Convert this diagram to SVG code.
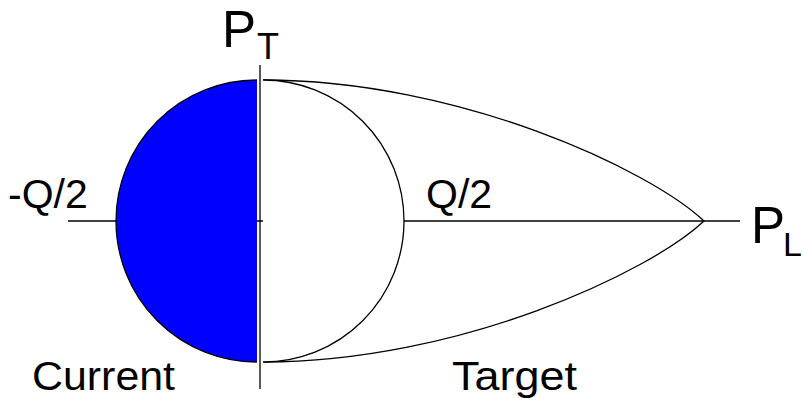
<svg xmlns="http://www.w3.org/2000/svg" width="803" height="398" viewBox="0 0 803 398">
<style>
.ln{fill:none;stroke:#000;stroke-width:1.3}
.t{font-family:"Liberation Sans",Arial,sans-serif;fill:#000}
</style>
<rect width="803" height="398" fill="#fff"/>
<g id="connectors">
<line class="ln" x1="68" y1="221" x2="740" y2="221"/>
</g>
<g id="target">
<path class="ln" d="M263,80 C460,80 650,170 704,221 C650,272 460,362 263,362"/>
<path d="M263,80 A141,141 0 0 1 263,362 Z" fill="#fff" stroke="none"/>
<path class="ln" d="M263,80 A141,141 0 0 1 263,362"/>
</g>
<g id="current">
<path d="M257,80 A141,141 0 0 0 257,362 Z" fill="#0000ff" stroke="none"/>
<path class="ln" d="M257,80 A141,141 0 0 0 257,362"/>
</g>
<g id="axis">
<line class="ln" x1="260" y1="65" x2="260" y2="389"/>
</g>
<g id="labels">
<text class="t" x="222" y="47" font-size="51">P</text>
<text class="t" x="257" y="59" font-size="36">T</text>
<text class="t" x="751" y="243" font-size="51">P</text>
<text class="t" x="783" y="256" font-size="34">L</text>
<text class="t" x="8" y="208" font-size="41">-Q/2</text>
<text class="t" x="426" y="208" font-size="41">Q/2</text>
<text class="t" x="32" y="390" font-size="40" textLength="143" lengthAdjust="spacingAndGlyphs">Current</text>
<text class="t" x="452" y="390" font-size="40" textLength="125" lengthAdjust="spacingAndGlyphs">Target</text>
</g>
</svg>
